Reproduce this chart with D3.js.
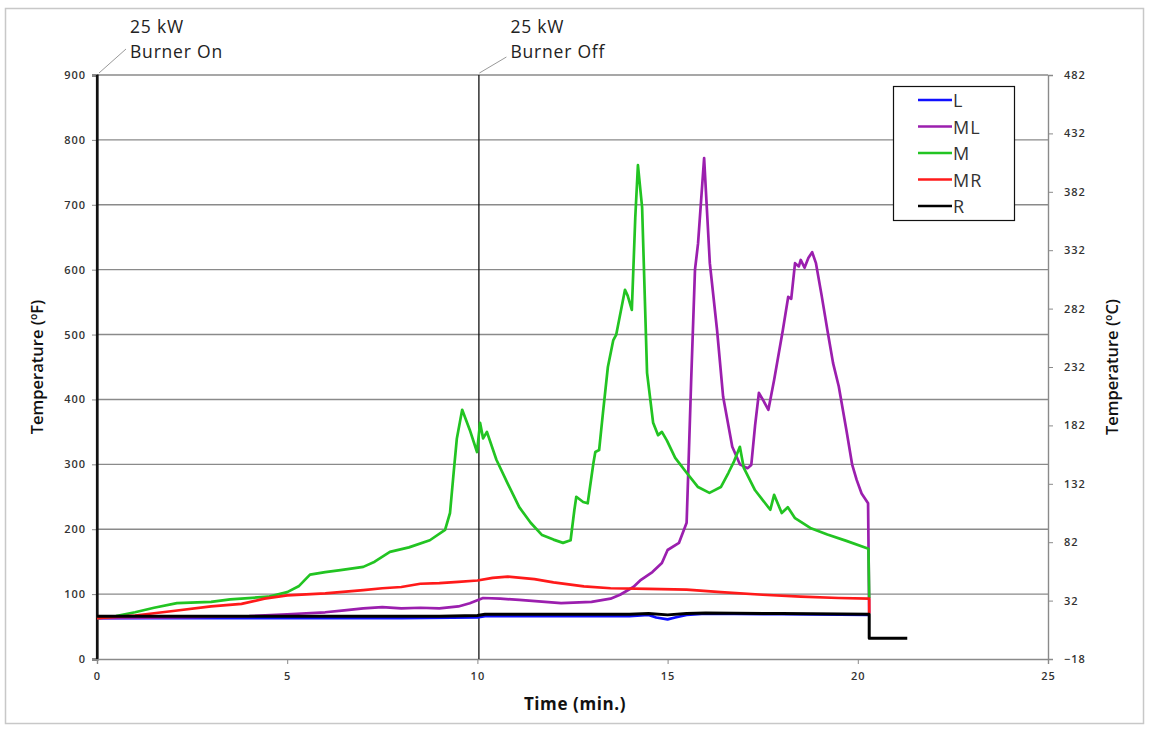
<!DOCTYPE html>
<html><head><meta charset="utf-8">
<script src="https://d3js.org/d3.v7.min.js"></script>
<style>body{margin:0;background:#fff;} svg{display:block;}</style>
</head><body>
<svg id="c" width="1151" height="731"></svg>
<script>
// ---- data ----
const xTicks = [0, 5, 10, 15, 20, 25];
const yTicksF = [0, 100, 200, 300, 400, 500, 600, 700, 800, 900];
const yTicksC = [-18, 32, 82, 132, 182, 232, 282, 332, 382, 432, 482];
const seriesNames = ["L", "ML", "M", "MR", "R"];
const seriesColors = ["#1010ff", "#9b1fae", "#22c422", "#ff1a1a", "#000000"];

const dataL = [[0,63],[2,63],[5,63],[8,63],[10,64],[10.2,66],[12,66],[14,66],[14.5,68],[14.7,64],[15,61],[15.2,64],[15.5,68],[16,70],[18,69],[20.3,68]];
const dataML = [[0,63],[2,64],[4,66],[5,69],[6,72],[6.5,75],[7,78],[7.5,80],[8,78],[8.5,79],[9,78],[9.5,81],[9.8,86],[10.15,94],[10.6,93],[11.1,91],[12.2,86],[13,88],[13.5,93],[13.75,99],[14.1,111],[14.3,122],[14.6,134],[14.85,148],[15.0,168],[15.3,179],[15.5,210],[15.55,300],[15.62,430],[15.72,600],[15.8,640],[15.96,772],[16.11,610],[16.3,507],[16.46,404],[16.7,327],[16.9,300],[17.1,294],[17.2,299],[17.3,360],[17.4,410],[17.5,400],[17.65,384],[17.8,430],[18.03,507],[18.17,558],[18.25,555],[18.35,610],[18.45,605],[18.5,615],[18.6,603],[18.7,618],[18.8,627],[18.9,610],[19.05,560],[19.2,507],[19.35,456],[19.5,420],[19.7,353],[19.85,300],[19.97,276],[20.1,255],[20.27,240],[20.3,70]];
const dataM = [[0,63],[0.5,66],[1,72],[1.5,79],[2.1,86],[3,88],[3.5,92],[4.5,96],[5,103],[5.3,112],[5.6,130],[6,134],[6.4,137],[7,142],[7.3,150],[7.7,165],[8.2,172],[8.75,183],[9.15,199],[9.28,225],[9.38,290],[9.46,340],[9.6,384],[9.8,353],[9.99,319],[10.07,364],[10.15,340],[10.25,350],[10.5,307],[10.8,270],[11.1,234],[11.4,210],[11.7,191],[12,184],[12.25,179],[12.45,183],[12.55,230],[12.6,250],[12.78,242],[12.9,240],[13.05,302],[13.1,319],[13.2,322],[13.3,379],[13.43,450],[13.57,491],[13.65,500],[13.88,569],[13.95,560],[14.06,538],[14.15,680],[14.22,761],[14.33,696],[14.46,441],[14.62,364],[14.75,345],[14.85,350],[14.98,337],[15.2,310],[15.5,287],[15.8,265],[16.1,256],[16.4,265],[16.6,287],[16.75,305],[16.9,327],[17.0,295],[17.3,260],[17.7,230],[17.8,253],[18.0,225],[18.16,234],[18.35,217],[18.75,202],[19.2,192],[19.7,182],[20.28,170],[20.3,94]];
const dataMR = [[0,63],[1,67],[2,74],[3,81],[3.8,85],[4.4,93],[5,98],[6,101],[7,106],[7.5,109],[8,111],[8.5,116],[9,117],[9.5,119],[10,121],[10.4,125],[10.8,127],[11.5,123],[12,118],[12.8,112],[13.5,109],[14.5,108],[15.5,107],[16.4,103],[17.5,99],[18.5,96],[19.5,94],[20.3,93],[20.3,70]];
const dataR = [[0,66],[5,66],[9,66],[10,67],[10.2,69],[14,69],[14.5,70],[15,68],[15.5,70],[16,71],[18,70],[20.3,69],[20.3,32],[21.3,32]];
const seriesData = [dataL, dataML, dataM, dataMR, dataR];
const events = [[0, "25 kW", "Burner On"], [10, "25 kW", "Burner Off"]];

// ---- layout ----
const svg = d3.select("#c");
const font = "'Open Sans', 'Liberation Sans', sans-serif";
const L = 97, R = 1048, T = 75, B = 659;
const x = d3.scaleLinear().domain([0, 25]).range([L, R]);
const yF = d3.scaleLinear().domain([0, 900]).range([B, T]);
const yC = d3.scaleLinear().domain([-18, 482]).range([B, T]);

// outer frame
svg.append("rect").attr("x", 5.5).attr("y", 8.5).attr("width", 1138).attr("height", 715)
  .attr("fill", "#fff").attr("stroke", "#c8c8c8").attr("stroke-width", 1.5);

// gridlines
svg.append("g").selectAll("line").data(yTicksF.slice(1)).join("line")
  .attr("x1", L).attr("x2", R).attr("y1", d => yF(d)).attr("y2", d => yF(d))
  .attr("stroke", "#8a8a8a").attr("stroke-width", 1.4);

// axes
const axL = svg.append("g").attr("transform", `translate(${L},0)`)
  .call(d3.axisLeft(yF).tickValues(yTicksF).tickSize(5).tickPadding(6));
const axR = svg.append("g").attr("transform", `translate(${R},0)`)
  .call(d3.axisRight(yC).tickValues(yTicksC).tickSize(5).tickPadding(11));
const axB = svg.append("g").attr("transform", `translate(0,${B})`)
  .call(d3.axisBottom(x).tickValues(xTicks).tickSize(5).tickPadding(8));
[axL, axR, axB].forEach(a => {
  a.select(".domain").attr("stroke", "#8a8a8a").attr("stroke-width", 1.4);
  a.selectAll(".tick line").attr("stroke", "#8a8a8a");
  a.selectAll("text").attr("font-family", font).attr("font-size", 11).attr("font-weight", 600)
    .attr("letter-spacing", 1).attr("fill", "#333");
});
axL.select(".domain").attr("stroke", "#111").attr("stroke-width", 2.2);

// event lines + annotations
events.forEach(([t, l1, l2]) => {
  svg.append("line").attr("x1", x(t) + (t === 0 ? 0 : 1.5)).attr("x2", x(t) + (t === 0 ? 0 : 1.5))
    .attr("y1", T).attr("y2", B).attr("stroke", "#111").attr("stroke-width", t === 0 ? 2.2 : 1.3);
  const x0 = x(t) + 2;
  svg.append("line").attr("x1", x0).attr("y1", T - 2).attr("x2", x0 + 27).attr("y2", T - (t === 0 ? 26 : 18))
    .attr("stroke", "#999").attr("stroke-width", 1);
  svg.append("text").attr("x", x0 + 31).attr("y", 33).text(l1)
    .attr("font-family", font).attr("font-size", 17.5).attr("letter-spacing", 0.8).attr("fill", "#222");
  svg.append("text").attr("x", x0 + 31).attr("y", 58).text(l2)
    .attr("font-family", font).attr("font-size", 17.5).attr("letter-spacing", 0.8).attr("fill", "#222");
});

// series
const line = d3.line().x(d => x(d[0])).y(d => yF(d[1]));
seriesData.forEach((d, i) => {
  svg.append("path").datum(d).attr("d", line).attr("fill", "none")
    .attr("stroke", seriesColors[i]).attr("stroke-width", i === 4 ? 3 : 2.7)
    .attr("stroke-linejoin", "round");
});

// axis titles
svg.append("text").attr("transform", `translate(43,${(T + B) / 2}) rotate(-90)`).attr("text-anchor", "middle")
  .attr("font-family", font).attr("font-size", 16.5).attr("font-weight", 600).attr("fill", "#111")
  .text("Temperature (ºF)");
svg.append("text").attr("transform", `translate(1118,${(T + B) / 2}) rotate(-90)`).attr("text-anchor", "middle")
  .attr("font-family", font).attr("font-size", 16.5).attr("font-weight", 600).attr("fill", "#111")
  .text("Temperature (ºC)");
svg.append("text").attr("x", 575).attr("y", 710).attr("text-anchor", "middle")
  .attr("font-family", font).attr("font-size", 17).attr("font-weight", 700).attr("letter-spacing", 0.6).attr("fill", "#111")
  .text("Time (min.)");

// legend
const lg = svg.append("g").attr("transform", "translate(893,86)");
lg.append("rect").attr("x", 0.5).attr("y", 0.5).attr("width", 121).attr("height", 134)
  .attr("fill", "#fff").attr("stroke", "#111").attr("stroke-width", 1.2);
seriesNames.forEach((n, i) => {
  const yy = 14 + i * 26.5;
  lg.append("line").attr("x1", 25).attr("x2", 59).attr("y1", yy).attr("y2", yy)
    .attr("stroke", seriesColors[i]).attr("stroke-width", 2.6);
  lg.append("text").attr("x", 60).attr("y", yy + 7).text(n)
    .attr("font-family", font).attr("font-size", 18).attr("letter-spacing", 1).attr("fill", "#333");
});
</script>
</body></html>
